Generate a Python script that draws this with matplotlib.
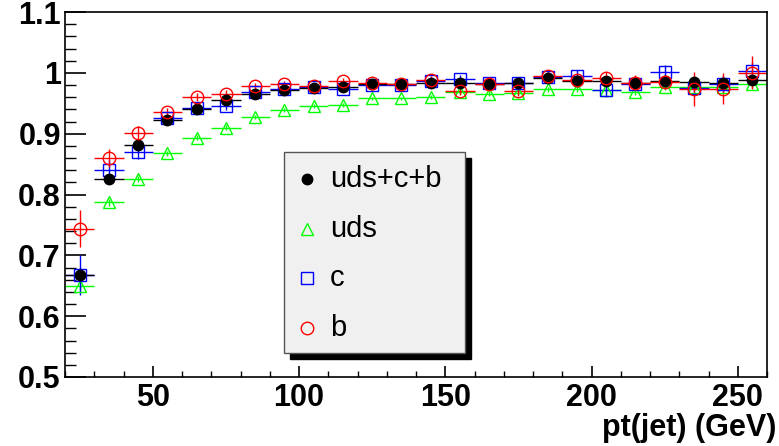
import numpy as np
import matplotlib
matplotlib.use("Agg")
import matplotlib.pyplot as plt
from matplotlib.patches import Rectangle

plt.rcParams['font.family'] = ['Liberation Sans', 'DejaVu Sans']

# bin centres of pt(jet), 10 GeV wide
pt = [25, 35, 45, 55, 65, 75, 85, 95, 105, 115, 125, 135,
      145, 155, 165, 175, 185, 195, 205, 215, 225, 235, 245, 255]
pt_err = [5] * 24

all_eff = [0.668, 0.825, 0.882, 0.922, 0.941, 0.955, 0.966, 0.971, 0.975, 0.977, 0.981, 0.981,
           0.984, 0.984, 0.981, 0.984, 0.991, 0.986, 0.986, 0.984, 0.986, 0.985, 0.984, 0.989]
all_err = [0.012, 0.006, 0.005, 0.004, 0.003, 0.003, 0.003, 0.003, 0.003, 0.003, 0.003, 0.003,
           0.003, 0.004, 0.004, 0.004, 0.004, 0.005, 0.005, 0.005, 0.006, 0.007, 0.007, 0.008]

uds_eff = [0.650, 0.787, 0.825, 0.868, 0.893, 0.910, 0.927, 0.939, 0.945, 0.947, 0.958, 0.958,
           0.960, 0.969, 0.966, 0.967, 0.973, 0.973, 0.971, 0.969, 0.976, 0.977, 0.977, 0.982]
uds_err = [0.012, 0.006, 0.005, 0.004, 0.004, 0.004, 0.003, 0.003, 0.003, 0.003, 0.003, 0.003,
           0.003, 0.004, 0.004, 0.004, 0.004, 0.005, 0.005, 0.005, 0.005, 0.006, 0.006, 0.007]

c_eff = [0.667, 0.841, 0.870, 0.925, 0.943, 0.945, 0.968, 0.974, 0.976, 0.973, 0.980, 0.980,
         0.987, 0.990, 0.984, 0.984, 0.993, 0.995, 0.971, 0.982, 1.002, 0.975, 0.981, 1.003]
c_err = [0.033, 0.015, 0.012, 0.008, 0.007, 0.006, 0.006, 0.005, 0.005, 0.005, 0.006, 0.006,
         0.006, 0.007, 0.007, 0.008, 0.008, 0.009, 0.010, 0.010, 0.011, 0.012, 0.013, 0.014]

b_eff = [0.744, 0.860, 0.901, 0.935, 0.960, 0.965, 0.978, 0.981, 0.978, 0.986, 0.984, 0.982,
         0.988, 0.970, 0.982, 0.970, 0.995, 0.988, 0.992, 0.984, 0.985, 0.973, 0.974, 1.000]
b_err = [0.031, 0.015, 0.012, 0.008, 0.007, 0.006, 0.006, 0.005, 0.005, 0.005, 0.006, 0.006,
         0.006, 0.007, 0.007, 0.008, 0.008, 0.009, 0.010, 0.012, 0.012, 0.028, 0.026, 0.027]

labels = ["uds+c+b", "uds", "c", "b"]

fig = plt.figure(figsize=(7.79, 4.46), dpi=100)
ax = fig.add_axes([65/779, 1-377/446, 702/779, 365/446])

ms = 8.5
ax.errorbar(pt, uds_eff, yerr=uds_err, xerr=pt_err, fmt='^', color='#00ff00',
            mfc='none', mec='#00ff00', ms=ms, mew=1, elinewidth=1, capsize=0)
ax.errorbar(pt, c_eff, yerr=c_err, xerr=pt_err, fmt='s', color='#0000ff',
            mfc='none', mec='#0000ff', ms=ms, mew=1, elinewidth=1, capsize=0)
ax.errorbar(pt, all_eff, yerr=all_err, xerr=pt_err, fmt='o', color='black',
            mfc='black', mec='black', ms=7.5, elinewidth=1, capsize=0)
ax.errorbar(pt, b_eff, yerr=b_err, xerr=pt_err, fmt='o', color='#ff0000',
            mfc='none', mec='#ff0000', ms=ms + 0.5, mew=1, elinewidth=1, capsize=0)

ax.set_xlim(20, 260)
ax.set_ylim(0.5, 1.1)
ax.set_xticks([50, 100, 150, 200, 250])
ax.set_xticks(np.arange(20, 261, 10), minor=True)
ax.set_yticks([0.5, 0.6, 0.7, 0.8, 0.9, 1.0, 1.1])
ax.set_yticklabels(["0.5", "0.6", "0.7", "0.8", "0.9", "1", "1.1"])
ax.set_yticks(np.arange(0.5, 1.101, 0.02), minor=True)
ax.tick_params(axis='both', which='both', direction='in', labelsize=22)
ax.tick_params(axis='y', which='major', length=15, width=1.2, pad=3)
ax.tick_params(axis='y', which='minor', length=8, width=1)
ax.tick_params(axis='x', which='major', length=8, width=1.2, pad=4)
ax.tick_params(axis='x', which='minor', length=4.5, width=1)
for lab in ax.get_xticklabels() + ax.get_yticklabels():
    lab.set_fontweight('bold')
for sp in ax.spines.values():
    sp.set_linewidth(1.2)

fig.text(776/779, 1-443/446, "pt(jet) (GeV)", ha='right', va='bottom',
         fontsize=22, fontweight='bold')

# ROOT-like legend box with a solid shadow
px = lambda x, y: (x/779, 1-y/446)
fig.patches.append(Rectangle(px(290, 359), 181/779, 201/446, transform=fig.transFigure,
                             facecolor='black', edgecolor='black', zorder=5))
fig.patches.append(Rectangle(px(284, 353), 181/779, 201/446, transform=fig.transFigure,
                             facecolor='#f0f0f0', edgecolor='#555555', lw=1, zorder=6))
rows = [179, 229, 278, 328]
styles = [dict(marker='o', mfc='black', mec='black', ms=7.5),
          dict(marker='^', mfc='none', mec='#00ff00', ms=8.5),
          dict(marker='s', mfc='none', mec='#0000ff', ms=8.5),
          dict(marker='o', mfc='none', mec='#ff0000', ms=9)]
for y, lab, st in zip(rows, labels, styles):
    fx, fy = px(307, y)
    fig.lines.append(plt.Line2D([fx], [fy], transform=fig.transFigure, ls='none',
                                mew=1, zorder=7, **st))
    tx, ty = px(330, y)
    fig.text(tx, ty, lab, ha='left', va='center', fontsize=21, zorder=8)

fig.savefig("out.png", dpi=100)
